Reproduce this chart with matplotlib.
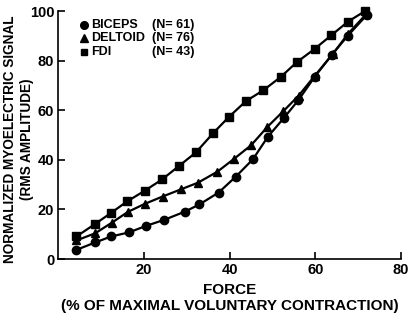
import matplotlib
matplotlib.use("Agg")
import matplotlib.pyplot as plt

plt.rcParams['font.family'] = ['Liberation Sans', 'DejaVu Sans']
plt.rcParams['font.weight'] = 'bold'

muscles = ["BICEPS", "DELTOID", "FDI"]
counts = ["(N= 61)", "(N= 76)", "(N= 43)"]
markers = ["o", "^", "s"]

fdi_x = [4.2, 8.6, 12.2, 16.0, 20.2, 24.2, 28.2, 32.1, 36.2, 39.8, 43.8, 47.8, 51.9, 55.6, 59.8, 63.7, 67.6, 71.6]
fdi_y = [9.1, 14.2, 18.5, 23.2, 27.6, 32.1, 37.6, 43.0, 50.9, 57.3, 63.7, 68.0, 73.4, 79.3, 84.7, 90.2, 95.7, 100.0]

del_x = [4.2, 8.6, 12.5, 16.2, 20.1, 24.3, 28.6, 32.6, 37.1, 41.0, 45.0, 48.8, 52.5, 56.1, 59.9, 64.1, 67.6, 71.9]
del_y = [7.5, 10.4, 14.7, 19.0, 22.2, 25.2, 28.1, 30.8, 35.2, 40.4, 45.9, 53.3, 59.6, 65.9, 74.0, 82.7, 90.8, 98.8]

bic_x = [4.2, 8.6, 12.3, 16.4, 20.5, 24.7, 29.5, 32.9, 37.4, 41.4, 45.4, 48.9, 52.7, 56.0, 59.9, 63.8, 67.6, 72.0]
bic_y = [3.7, 6.7, 9.1, 10.7, 13.4, 15.8, 19.1, 22.0, 26.8, 33.2, 40.2, 49.3, 57.0, 64.0, 73.6, 82.3, 90.1, 98.4]

xticks = [20, 40, 60, 80]
yticks = [0, 20, 40, 60, 80, 100]

fig = plt.figure(figsize=(4.11, 3.25), dpi=100)
ax = fig.add_axes([0.1423, 0.203, 0.8334, 0.763])

series = [(bic_x, bic_y), (del_x, del_y), (fdi_x, fdi_y)]
for (xs, ys), m in zip(series, markers):
    ax.plot(xs, ys, color='black', lw=1.6, marker=m, markersize=6 if m != "s" else 5.5,
            clip_on=False, zorder=3)

ax.set_xlim(0, 80)
ax.set_ylim(0, 100)
ax.set_xticks(xticks)
ax.set_yticks(yticks)
ax.tick_params(direction='in', length=5, width=1.2, labelsize=10.5, pad=3)
for s in ['top', 'right']:
    ax.spines[s].set_visible(False)
for s in ['left', 'bottom']:
    ax.spines[s].set_linewidth(1.2)

ax.set_xlabel("FORCE\n(% OF MAXIMAL VOLUNTARY CONTRACTION)", fontsize=11,
              fontweight='bold', linespacing=1.2, labelpad=4)
ax.set_ylabel("NORMALIZED MYOELECTRIC SIGNAL\n(RMS AMPLITUDE)", fontsize=9.8,
              fontweight='bold', linespacing=1.25)
ax.yaxis.set_label_coords(-0.072, 0.485)

# legend (manual)
rows_y = [0.945, 0.892, 0.833]
for m, name, n, ry in zip(markers, muscles, counts, rows_y):
    ax.plot([0.074], [ry], marker=m, color='black', markersize=5.5 if m != "s" else 5,
            transform=ax.transAxes, clip_on=False, linestyle='none')
    ax.text(0.096, ry, name, transform=ax.transAxes, fontsize=9,
            fontweight='bold', va='center', ha='left')
    ax.text(0.273, ry, n, transform=ax.transAxes, fontsize=9,
            fontweight='bold', va='center', ha='left')

fig.savefig("out.png", dpi=100)
